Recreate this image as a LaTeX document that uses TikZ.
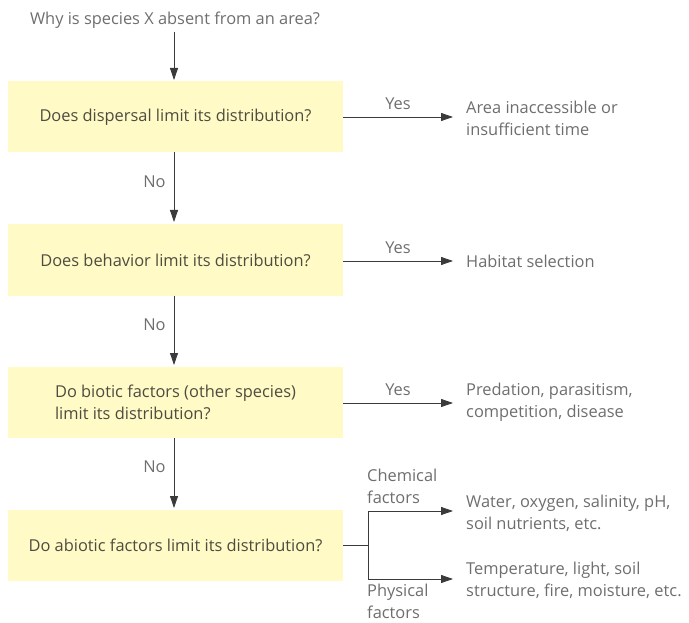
\documentclass[tikz,border=0pt]{standalone}
\usepackage{fontspec}
\setmainfont{Open Sans}
\usetikzlibrary{arrows.meta}
\definecolor{boxfill}{HTML}{FFFAC6}
\definecolor{boxtext}{HTML}{4E4C40}
\definecolor{graytext}{HTML}{6E6E6E}
\definecolor{linecol}{HTML}{3A3A3A}
\tikzset{
  x=1pt, y=1pt,
  qbox/.style={fill=boxfill, draw=none, minimum width=335pt, minimum height=71pt, text=boxtext, font=\fontsize{16.4}{22}\selectfont, align=left, inner sep=0pt},
  gtext/.style={text=graytext, font=\fontsize{16.4}{22}\selectfont, inner sep=0pt},
  outtext/.style={gtext, anchor=west, align=left},
  arr/.style={draw=linecol, line width=0.8pt, -{Triangle[length=12pt,width=8pt]}},
  ln/.style={draw=linecol, line width=0.8pt},
}
\begin{document}
\begin{tikzpicture}
\useasboundingbox (0,0) rectangle (689,-623);
\node[gtext] (title) at (175,-20) {Why is species X absent from an area?};
\node[qbox] (q1) at (175.5,-117) {Does dispersal limit its distribution?};
\node[qbox] (q2) at (175.5,-260) {Does behavior limit its distribution?};
\node[qbox] (q3) at (175.5,-402.5) {Do biotic factors (other species)\\limit its distribution?};
\node[qbox] (q4) at (175.5,-545) {Do abiotic factors limit its distribution?};

\node[outtext] (o1) at (466,-118) {Area inaccessible or\\insufficient time};
\node[outtext] (o2) at (466,-261) {Habitat selection};
\node[outtext] (o3) at (466,-402) {Predation, parasitism,\\competition, disease};
\node[outtext] (o4) at (466,-513) {Water, oxygen, salinity, pH,\\soil nutrients, etc.};
\node[outtext] (o5) at (466,-580) {Temperature, light, soil\\structure, fire, moisture, etc.};

\coordinate (t1) at (174,-32);
\coordinate (b1) at (174,-152.5);
\coordinate (b2) at (174,-295.5);
\coordinate (b3) at (174,-438);
\coordinate (e1) at (174,-80);
\coordinate (e2) at (174,-222);
\coordinate (e3) at (174,-365);
\coordinate (e4) at (174,-508);
\draw[arr] (t1) -- (e1);
\draw[arr] (b1) -- node[gtext, anchor=east, xshift=-8pt, yshift=6pt] (n1) {No} (e2);
\draw[arr] (b2) -- node[gtext, anchor=east, xshift=-8pt, yshift=6pt] (n2) {No} (e3);
\draw[arr] (b3) -- node[gtext, anchor=east, xshift=-8pt, yshift=6pt] (n3) {No} (e4);

\coordinate (y1) at (343,-117);
\coordinate (y2) at (343,-261);
\coordinate (y3) at (343,-403);
\coordinate (z1) at (453,-117);
\coordinate (z2) at (453,-261);
\coordinate (z3) at (453,-403);
\draw[arr] (y1) -- node[gtext, above=7pt] (yes1) {Yes} (z1);
\draw[arr] (y2) -- node[gtext, above=7pt] (yes2) {Yes} (z2);
\draw[arr] (y3) -- node[gtext, above=7pt] (yes3) {Yes} (z3);

\coordinate (s0) at (343,-545);
\coordinate (s1) at (368,-545);
\coordinate (sa) at (368,-511);
\coordinate (sb) at (368,-579);
\coordinate (za) at (453,-511);
\coordinate (zb) at (453,-579);
\draw[ln] (s0) -- (s1);
\draw[ln] (sa) -- (sb);
\draw[arr] (sa) -- (za);
\draw[arr] (sb) -- (zb);
\node[gtext, anchor=west, align=left] (chem) at (367,-486) {Chemical\\factors};
\node[gtext, anchor=west, align=left] (phys) at (367,-601) {Physical\\factors};
\end{tikzpicture}
\end{document}
